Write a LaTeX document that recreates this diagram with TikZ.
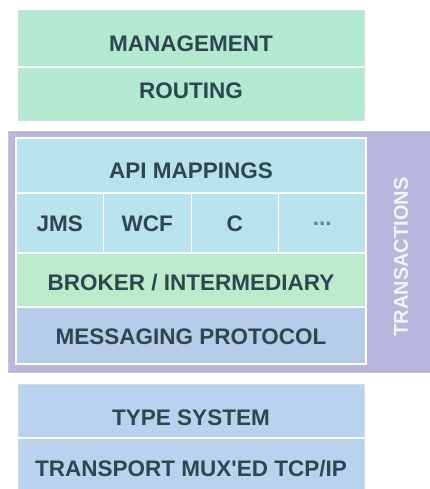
\documentclass[tikz,border=0pt]{standalone}
\usepackage{fontspec}
\setmainfont{Liberation Sans}
\usetikzlibrary{positioning}

\definecolor{mint}{HTML}{B3E8D1}
\definecolor{aqua}{HTML}{B8E3EC}
\definecolor{leaf}{HTML}{BEEACC}
\definecolor{sky}{HTML}{B6CDEA}
\definecolor{pale}{HTML}{B9D3EE}
\definecolor{lilac}{HTML}{B7B6DD}
\definecolor{ink}{HTML}{2E4650}

\tikzset{
  tag/.style={font=\fontsize{22.5}{27}\selectfont\bfseries, text=ink, inner sep=0pt},
  sep/.style={draw=white, line width=1.5pt}
}

\begin{document}
\begin{tikzpicture}[x=1pt, y=-1pt]
  \useasboundingbox (0,0) rectangle (430,489);

  % Management / routing
  \draw[fill=mint, draw=black!15] (18,10) rectangle (364,120);
  \draw[sep] (18,67) -- (364,67);
  \node[tag] (mgmt) at (191,44) {MANAGEMENT};
  \node[tag] (routing) at (191,91) {ROUTING};

  % Transactions band
  \draw[fill=lilac, draw=gray!45] (8,131) rectangle (430,372);
  \node[tag, font=\fontsize{20}{24}\selectfont\bfseries, text=white!85!lilac, rotate=90] (trans) at (401,257) {TRANSACTIONS};

  % Inner stack
  \fill[aqua] (16,138) rectangle (366,253);
  \fill[leaf] (16,253) rectangle (366,307);
  \fill[sky] (16,307) rectangle (366,364);
  \draw[sep] (16,193) -- (366,193);
  \draw[sep] (16,253) -- (366,253);
  \draw[sep] (16,307) -- (366,307);
  \foreach \x in {103.5,191,278.5}
    \draw[white, line width=1pt] (\x,193) -- (\x,253);
  \draw[white, line width=2pt] (16,138) rectangle (366,364);

  \node[tag] (api) at (191,171) {API MAPPINGS};
  \node[tag] (jms) at (59.75,224) {JMS};
  \node[tag] (wcf) at (147.25,224) {WCF};
  \node[tag] (clang) at (234.75,224) {C};
  \node[tag, text=ink!70] (more) at (322.25,224) {...};
  \node[tag] (broker) at (191,283) {BROKER / INTERMEDIARY};
  \node[tag] (msgproto) at (191,337) {MESSAGING PROTOCOL};

  % Type system / transport
  \draw[fill=pale, draw=black!15] (18,384) rectangle (364,492);
  \draw[sep] (18,438) -- (364,438);
  \node[tag] (types) at (191,418) {TYPE SYSTEM};
  \node[tag] (transport) at (191,469) {TRANSPORT MUX\textquotesingle ED TCP/IP};
\end{tikzpicture}
\end{document}
